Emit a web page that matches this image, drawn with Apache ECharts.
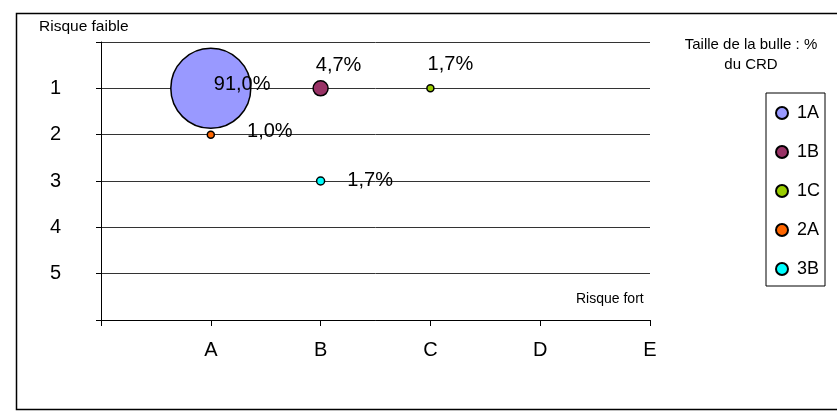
<!DOCTYPE html>
<html>
<head>
<meta charset="utf-8">
<script src="https://cdn.jsdelivr.net/npm/echarts@6/dist/echarts.min.js"></script>
<style>
  html, body { margin: 0; padding: 0; background: #fff; }
  #chart { width: 837px; height: 414px; }
</style>
</head>
<body>
<div id="chart"></div>
<script>
// ---- data ----
const seriesNames = ['1A', '1B', '1C', '2A', '3B'];
const xColumn = [1, 2, 3, 1, 2];          // A=1 ... E=5
const yRow = [1, 1, 1, 2, 3];             // risk row 1..5
const shareCRD = [91.0, 4.7, 1.7, 1.0, 1.7]; // % du CRD (bubble size)
const xTickLabels = ['', 'A', 'B', 'C', 'D', 'E'];
const yTickLabels = ['', '1', '2', '3', '4', '5', ''];

// ---- styles ----
const colors = ['#9999FF', '#993366', '#99CC00', '#FF6600', '#00FFFF'];
const symbolSizes = [80, 15, 7, 7, 8];
const labelStyles = [
  { position: 'inside', align: 'left', offset: [3, -4] },
  { position: 'top', distance: 5, offset: [18, 0] },
  { position: 'top', distance: 10, offset: [20, 0] },
  { position: 'right', distance: 32, offset: [0, -3] },
  { position: 'right', distance: 22, offset: [0, -1] }
];
const FONT = 'Arial, "Liberation Sans", sans-serif';

const fmt = v => v.toFixed(1).replace('.', ',') + '%';

const series = seriesNames.map((name, i) => ({
  name: name,
  type: 'scatter',
  symbol: 'circle',
  symbolSize: symbolSizes[i],
  data: [[xColumn[i], yRow[i], shareCRD[i]]],
  itemStyle: { color: colors[i], borderColor: '#000', borderWidth: 1.5, opacity: 1 },
  label: Object.assign({
    show: true,
    formatter: p => fmt(p.value[2]),
    color: '#000',
    fontSize: 20,
    fontFamily: FONT
  }, labelStyles[i]),
  emphasis: { disabled: true },
  z: 3
}));

const chart = echarts.init(document.getElementById('chart'), null, { renderer: 'canvas' });
chart.setOption({
  animation: false,
  backgroundColor: '#fff',
  grid: { left: 101, right: 187, top: 42, bottom: 94, containLabel: false },
  xAxis: {
    type: 'value', min: 0, max: 5, interval: 1,
    axisLine: { show: true, onZero: false, lineStyle: { color: '#000', width: 1 } },
    axisTick: { show: true, length: 6, lineStyle: { color: '#000' } },
    axisLabel: {
      margin: 20, fontSize: 20, color: '#000', fontFamily: FONT,
      formatter: v => xTickLabels[Math.round(v)] || ''
    },
    splitLine: { show: false }
  },
  yAxis: {
    type: 'value', min: 0, max: 6, interval: 1, inverse: true,
    axisLine: { show: true, onZero: false, lineStyle: { color: '#000', width: 1 } },
    axisTick: { show: true, length: 5, lineStyle: { color: '#000' } },
    axisLabel: {
      margin: 40, fontSize: 20, color: '#000', fontFamily: FONT,
      formatter: v => yTickLabels[Math.round(v)] || ''
    },
    splitLine: { show: true, lineStyle: { color: '#333', width: 1 } }
  },
  legend: {
    data: seriesNames,
    orient: 'vertical',
    left: 766, top: 93,
    icon: 'circle',
    itemWidth: 12, itemHeight: 12,
    itemGap: 19,
    padding: [10, 5, 7, 9],
    borderColor: '#000', borderWidth: 1,
    selectedMode: false,
    textStyle: { fontSize: 18, lineHeight: 20, color: '#000', fontFamily: FONT, padding: [0, 0, 0, 4] }
  },
  graphic: [
    { type: 'rect', shape: { x: 16.5, y: 13.5, width: 830, height: 396 },
      style: { fill: 'none', stroke: '#000', lineWidth: 1.5 }, z: -1, silent: true },
    { type: 'text', left: 39, top: 19,
      style: { text: 'Risque faible', font: '15.5px ' + FONT, fill: '#000' } },
    { type: 'text', left: 576, top: 292,
      style: { text: 'Risque fort', font: '14px ' + FONT, fill: '#000' } },
    { type: 'text', x: 751, y: 35,
      style: { text: 'Taille de la bulle : %\ndu CRD', font: '15px ' + FONT, fill: '#000',
               align: 'center', lineHeight: 20 } }
  ],
  series: series
});
</script>
</body>
</html>
